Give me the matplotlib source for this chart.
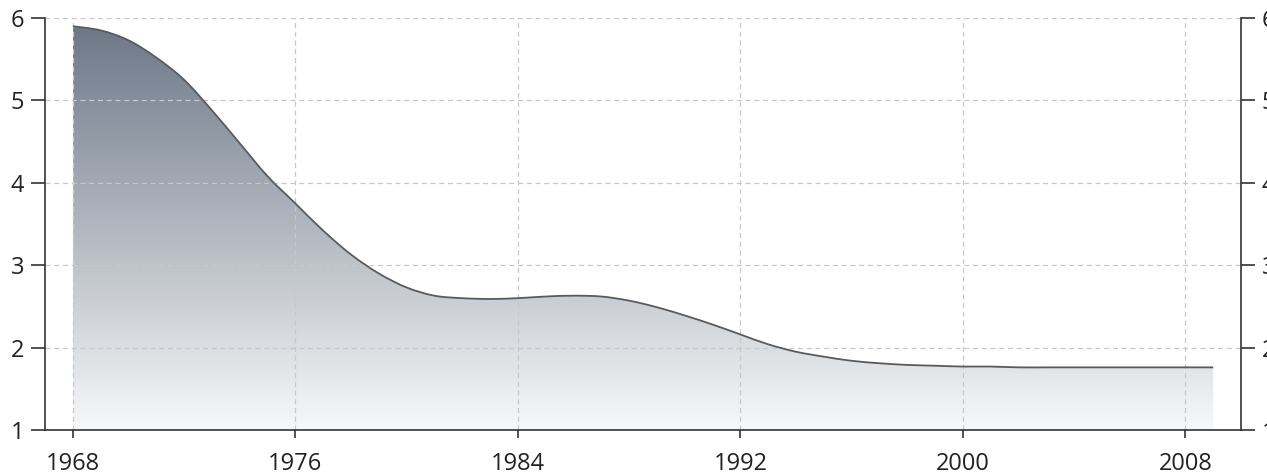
import matplotlib
matplotlib.use("Agg")
import matplotlib.pyplot as plt
import numpy as np
from matplotlib.colors import LinearSegmentedColormap
from matplotlib.patches import PathPatch
from matplotlib.path import Path

plt.rcParams['font.family'] = ['Open Sans', 'DejaVu Sans']

# values
years = list(range(1968, 2010))
values = [5.90, 5.85, 5.73, 5.52, 5.25, 4.88, 4.48, 4.08, 3.75, 3.42,
          3.13, 2.90, 2.73, 2.63, 2.60, 2.59, 2.60, 2.62, 2.63, 2.62,
          2.57, 2.49, 2.39, 2.28, 2.16, 2.04, 1.95, 1.89, 1.84, 1.81,
          1.79, 1.78, 1.77, 1.77, 1.76, 1.76, 1.76, 1.76, 1.76, 1.76,
          1.76, 1.76]
x_ticks = [1968, 1976, 1984, 1992, 2000, 2008]
y_ticks = [1, 2, 3, 4, 5, 6]


def smooth_path(xs, ys):
    # Catmull-Rom through the points, written as cubic Bezier segments
    pts = np.column_stack([xs, ys])
    verts = [tuple(pts[0])]
    codes = [Path.MOVETO]
    for i in range(len(pts) - 1):
        p0 = pts[max(i - 1, 0)]
        p1 = pts[i]
        p2 = pts[i + 1]
        p3 = pts[min(i + 2, len(pts) - 1)]
        c1 = p1 + (p2 - p0) / 6
        c2 = p2 - (p3 - p1) / 6
        verts += [tuple(c1), tuple(c2), tuple(p2)]
        codes += [Path.CURVE4] * 3
    return verts, codes


fig = plt.figure(figsize=(12.67, 4.75), dpi=100)
ax = fig.add_axes([45 / 1267, 1 - 430 / 475, (1241 - 45) / 1267, (430 - 18) / 475])

x_min, x_max = 1967.0, 2010.0
y_min, y_max = 1, 6

line_verts, line_codes = smooth_path(years, values)

# gradient fill clipped to the area under the curve
cmap = LinearSegmentedColormap.from_list("slate", ["#f7f8f9", "#6a7585"])
grad = np.linspace(0, 1, 256).reshape(-1, 1)
img = ax.imshow(grad, cmap=cmap, aspect='auto', origin='lower',
                extent=[years[0], years[-1], y_min, y_max], zorder=1)
area_verts = line_verts + [(years[-1], y_min), (years[0], y_min), (years[0], values[0])]
area_codes = line_codes + [Path.LINETO, Path.LINETO, Path.CLOSEPOLY]
clip = PathPatch(Path(area_verts, area_codes), facecolor='none', edgecolor='none',
                 transform=ax.transData)
ax.add_patch(clip)
img.set_clip_path(clip)

ax.add_patch(PathPatch(Path(line_verts, line_codes), facecolor='none',
                       edgecolor='#5a5a5a', linewidth=1.3, zorder=3))

ax.set_xlim(x_min, x_max)
ax.set_ylim(y_min, y_max)
ax.set_xticks(x_ticks)
ax.set_yticks(y_ticks)

ax.set_axisbelow('line')
ax.grid(True, color='#c8c8c8', linestyle=(0, (4, 3)), linewidth=0.9)

ax.spines['top'].set_visible(False)
for side in ['left', 'bottom', 'right']:
    ax.spines[side].set_color('#333333')
    ax.spines[side].set_linewidth(1.2)

ax.tick_params(axis='y', which='both', left=True, right=True, labelleft=True, labelright=True,
               length=10, width=1.2, color='#333333', labelsize=17, labelcolor='#222222', pad=5)
ax.tick_params(axis='x', length=6, width=1.2, color='#333333', labelsize=17,
               labelcolor='#222222', pad=10)

fig.savefig("out.png", dpi=100)
